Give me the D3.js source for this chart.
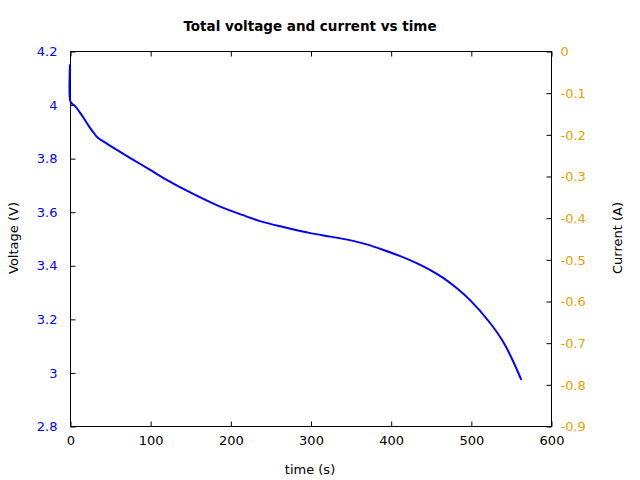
<!DOCTYPE html>
<html><head><meta charset="utf-8">
<script src="https://cdn.jsdelivr.net/npm/d3@7"></script>
<style>body{margin:0;background:#fff}svg{display:block}text{font-family:"DejaVu Sans",sans-serif}</style>
</head><body>
<script>
const timeS = [0, 0.3, 2, 6, 12, 18, 25, 30, 34, 45, 60, 80, 100, 120, 150, 185, 215, 237, 266, 300, 325, 349, 370, 391, 412, 433, 450, 466, 483, 500, 522, 539, 551, 563];
const voltage = [4.15, 4.013, 4.005, 3.995, 3.972, 3.945, 3.913, 3.893, 3.878, 3.856, 3.828, 3.792, 3.756, 3.72, 3.672, 3.622, 3.588, 3.565, 3.543, 3.52, 3.507, 3.494, 3.478, 3.457, 3.434, 3.407, 3.381, 3.352, 3.313, 3.267, 3.192, 3.121, 3.053, 2.972];
const xTicks = [0, 100, 200, 300, 400, 500, 600];
const vTicks = [2.8, 3, 3.2, 3.4, 3.6, 3.8, 4, 4.2];
const iTicks = [0, -0.1, -0.2, -0.3, -0.4, -0.5, -0.6, -0.7, -0.8, -0.9];

const W = 640, H = 480, L = 70, R = 551, T = 51, B = 426;
const svg = d3.select("body").append("svg").attr("width", W).attr("height", H);
const x = d3.scaleLinear().domain([0, 600]).range([L, R]);
const yV = d3.scaleLinear().domain([2.8, 4.2]).range([B, T]);
const yI = d3.scaleLinear().domain([-0.9, 0]).range([B, T]);
const FS = 13;

svg.append("rect").attr("x", L + 0.5).attr("y", T + 0.5).attr("width", R - L).attr("height", B - T)
  .attr("fill", "none").attr("stroke", "#000").attr("stroke-width", 1);

const fmt = d => String(+d.toFixed(2));
const gx = svg.append("g").attr("transform", `translate(0.5,${B + 0.5})`)
  .call(d3.axisBottom(x).tickValues(xTicks).tickSizeInner(-5).tickSizeOuter(0).tickPadding(9).tickFormat(fmt));
gx.select(".domain").remove();
gx.selectAll("text").attr("font-size", FS).attr("fill", "#000");
gx.selectAll("line").attr("stroke", "#000");
const gxt = svg.append("g").attr("transform", `translate(0.5,${T + 0.5})`)
  .call(d3.axisTop(x).tickValues(xTicks).tickSizeInner(-5).tickSizeOuter(0).tickFormat(""));
gxt.select(".domain").remove();
gxt.selectAll("line").attr("stroke", "#000");

const gl = svg.append("g").attr("transform", `translate(${L + 0.5},0.5)`)
  .call(d3.axisLeft(yV).tickValues(vTicks).tickSizeInner(-5).tickSizeOuter(0).tickPadding(13).tickFormat(fmt));
gl.select(".domain").remove();
gl.selectAll("text").attr("font-size", FS).attr("fill", "#0000ff");
gl.selectAll("line").attr("stroke", "#000");

const gr = svg.append("g").attr("transform", `translate(${R + 0.5},0.5)`)
  .call(d3.axisRight(yI).tickValues(iTicks).tickSizeInner(-5).tickSizeOuter(0).tickPadding(9).tickFormat(fmt));
gr.select(".domain").remove();
gr.selectAll("text").attr("font-size", FS).attr("fill", "#e6a100");
gr.selectAll("line").attr("stroke", "#000");

const line = d3.line().x((d, i) => x(timeS[i])).y((d, i) => yV(voltage[i])).curve(d3.curveCatmullRom.alpha(0.5));
svg.append("path").datum(voltage).attr("d", line).attr("fill", "none").attr("stroke", "#0000ff").attr("stroke-width", 2);

svg.append("text").attr("x", 310).attr("y", 31).attr("text-anchor", "middle").attr("font-size", 13.5).attr("font-weight", "bold").text("Total voltage and current vs time");
svg.append("text").attr("x", 310).attr("y", 474).attr("text-anchor", "middle").attr("font-size", FS).text("time (s)");
svg.append("text").attr("transform", "translate(18,238) rotate(-90)").attr("text-anchor", "middle").attr("font-size", FS).text("Voltage (V)");
svg.append("text").attr("transform", "translate(622,238) rotate(-90)").attr("text-anchor", "middle").attr("font-size", FS).text("Current (A)");
</script>
</body></html>
